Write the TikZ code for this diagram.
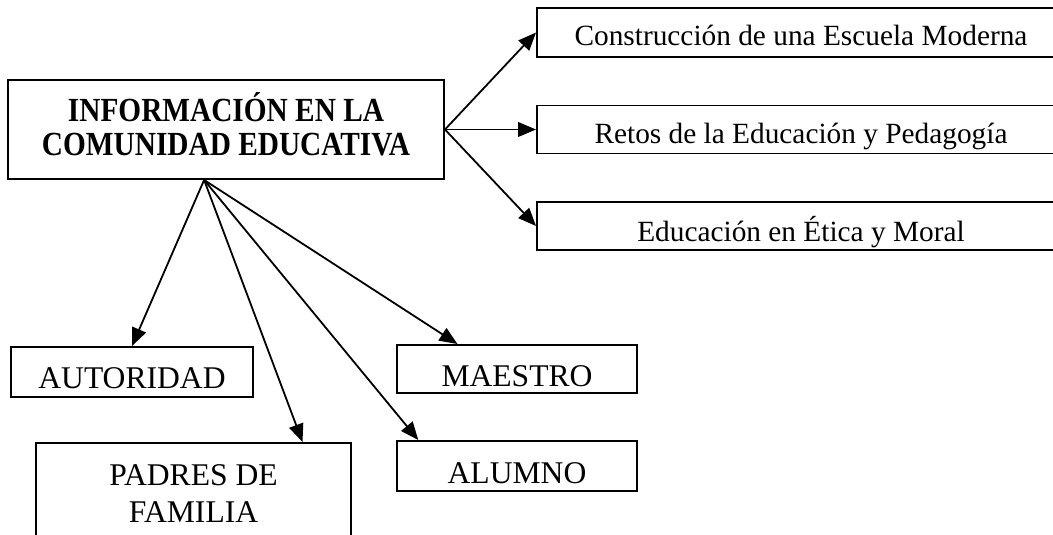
\documentclass[tikz,border=0pt]{standalone}
\usepackage{fontspec}
\usepackage{graphicx}
\setmainfont{Liberation Serif}
\usetikzlibrary{arrows.meta,calc}
\tikzset{
  bx/.style={draw, line width=1.45pt, rectangle, inner sep=0pt},
  toptext/.style={font=\fontsize{22}{26}\selectfont},
  bottext/.style={font=\fontsize{23.7}{28}\selectfont},
  arr/.style={line width=1.35pt, -{Triangle[length=13.5pt,width=11pt]}},
}
\newcommand{\tallline}[1]{\scalebox{1}[1.15]{#1}}
\begin{document}
\begin{tikzpicture}[x=0.75pt,y=-0.75pt]
\useasboundingbox (0,0) rectangle (1053,535);
\clip (0,0) rectangle (1053,535);
% main
\node[bx, minimum width=327pt, minimum height=74.25pt, align=center,
      font=\fontsize{22}{25.5}\selectfont\bfseries,
      text height=39pt, text depth=0pt] (main) at (226,129.5)
      {\tallline{INFORMACIÓN EN LA}\\\tallline{COMUNIDAD EDUCATIVA}};
% right boxes
\node[bx, toptext, minimum width=396pt, minimum height=36.75pt,
      text height=20.25pt, text depth=0pt] (c1) at (801,32.5)
      {Construcción de una Escuela Moderna};
\node[bx, toptext, minimum width=396pt, minimum height=36pt,
      text height=21pt, text depth=0pt] (c2) at (801,129.5)
      {Retos de la Educación y Pedagogía};
\node[bx, toptext, minimum width=396pt, minimum height=36pt,
      text height=22.5pt, text depth=0pt] (c3) at (801,226)
      {Educación en Ética y Moral};
% bottom boxes
\node[bx, bottext, minimum width=181.5pt, minimum height=37.5pt,
      text height=24pt, text depth=0pt] (autoridad) at (132,372) {AUTORIDAD};
\node[bx, bottext, minimum width=180pt, minimum height=36pt,
      text height=25.5pt, text depth=0pt] (maestro) at (517,369) {MAESTRO};
\node[bx, bottext, minimum width=180pt, minimum height=37.5pt,
      text height=25.5pt, text depth=0pt] (alumno) at (517,466) {ALUMNO};
\node[bx, minimum width=236.25pt, minimum height=87.75pt, align=center,
      font=\fontsize{23.7}{27.75}\selectfont,
      text height=30.75pt, text depth=0pt] (padres) at (193.5,501.5)
      {PADRES DE\\FAMILIA};
% connectors
\coordinate (src) at ($(main.south west)!0.45!(main.south east)$);
\draw[arr] (main.east) -- (c1.west);
\draw[arr] (main.east) -- (c2.west);
\draw[arr] (main.east) -- (c3.west);
\draw[arr] (src) -- (autoridad.north);
\draw[arr] (src) -- ($(padres.north west)!0.844!(padres.north east)$);
\draw[arr] (src) -- ($(alumno.north west)!0.092!(alumno.north east)$);
\draw[arr] (src) -- ($(maestro.north west)!0.254!(maestro.north east)$);
\end{tikzpicture}
\end{document}
